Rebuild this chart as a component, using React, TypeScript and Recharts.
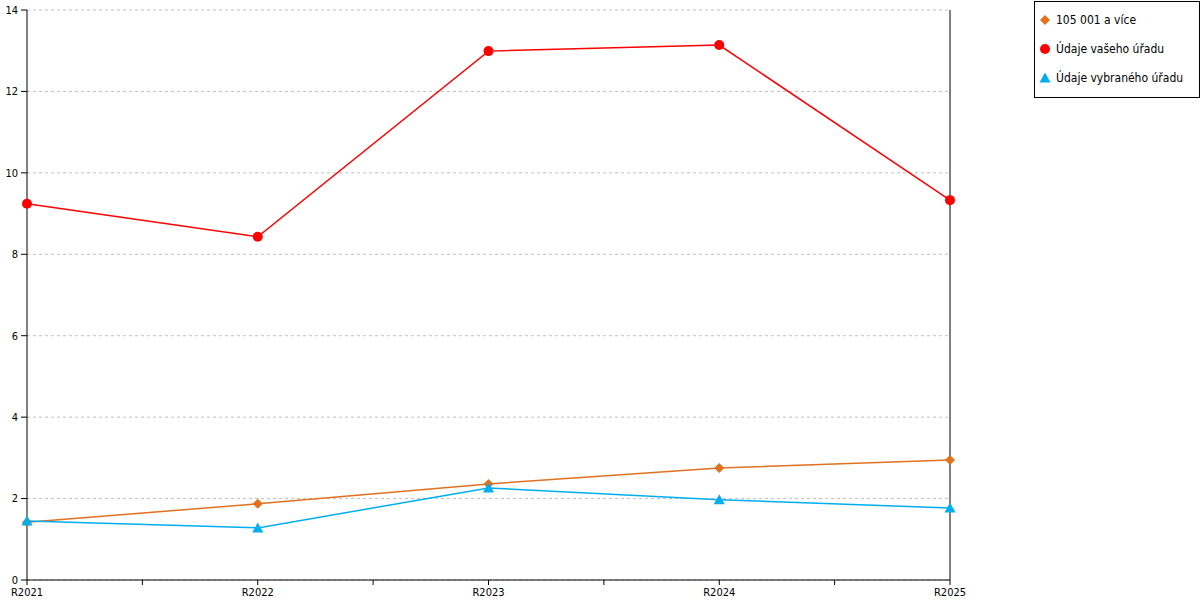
import React from "react";
import { LineChart, Line, XAxis, YAxis, CartesianGrid, ReferenceLine } from "recharts";

const categories = ["R2021", "R2022", "R2023", "R2024", "R2025"];
const range = [1.42, 1.87, 2.36, 2.75, 2.95];
const yourOffice = [9.24, 8.43, 12.99, 13.14, 9.33];
const chosenOffice = [1.45, 1.28, 2.26, 1.97, 1.77];
const yTicks = [0, 2, 4, 6, 8, 10, 12, 14];
const xTicks = [0, 0.5, 1, 1.5, 2, 2.5, 3, 3.5, 4];

const series = [
  { key: "range", name: "105 001 a více", color: "#e0711f", shape: "diamond" },
  { key: "yours", name: "Údaje vašeho úřadu", color: "#ff0000", shape: "circle" },
  { key: "chosen", name: "Údaje vybraného úřadu", color: "#00aeef", shape: "triangle" },
];

const data = categories.map((c, i) => ({
  idx: i,
  label: c,
  range: range[i],
  yours: yourOffice[i],
  chosen: chosenOffice[i],
}));

const font = "'DejaVu Sans Condensed', 'DejaVu Sans', sans-serif";

function Marker({ cx, cy, shape, color }: { cx: number; cy: number; shape: string; color: string }) {
  if (shape === "diamond") {
    return <path d={`M${cx},${cy - 5}L${cx + 5},${cy}L${cx},${cy + 5}L${cx - 5},${cy}Z`} fill={color} />;
  }
  if (shape === "triangle") {
    return <path d={`M${cx},${cy - 5.5}L${cx + 5.5},${cy + 4.5}L${cx - 5.5},${cy + 4.5}Z`} fill={color} />;
  }
  return <circle cx={cx} cy={cy} r={5} fill={color} />;
}

function LegendBox() {
  return (
    <div
      style={{
        position: "absolute",
        left: 1034,
        top: 1,
        width: 164,
        height: 95,
        border: "1px solid #000",
        background: "#fff",
        fontFamily: font,
        fontSize: 12,
        color: "#000",
        whiteSpace: "nowrap",
      }}
    >
      {series.map((s, i) => (
        <div
          key={s.key}
          style={{ position: "absolute", left: 0, top: 8 + i * 29, height: 20, display: "flex", alignItems: "center" }}
        >
          <svg width={20} height={14} style={{ marginLeft: 1 }}>
            <Marker cx={9} cy={7} shape={s.shape} color={s.color} />
          </svg>
          <span>{s.name}</span>
        </div>
      ))}
    </div>
  );
}

export default function App() {
  return (
    <div style={{ position: "absolute", left: 0, top: 0, width: 1200, height: 600 }}>
      <LineChart width={1200} height={600} data={data} margin={{ top: 10, right: 250, bottom: 0, left: 0 }}>
        <CartesianGrid vertical={false} stroke="#c0c0c0" strokeDasharray="3 3" />
        <XAxis
          dataKey="idx"
          type="number"
          domain={[0, 4]}
          ticks={xTicks}
          interval={0}
          height={20}
          tickSize={5}
          tickFormatter={(v: number) => (Number.isInteger(v) ? categories[v] : "")}
          stroke="#000"
          tick={{ fill: "#000", fontSize: 11, fontFamily: font }}
          tickMargin={3}
        />
        <YAxis
          domain={[0, 14]}
          ticks={yTicks}
          width={27}
          tickSize={6}
          stroke="#000"
          tick={{ fill: "#000", fontSize: 11, fontFamily: font }}
          tickMargin={3}
        />
        <ReferenceLine x={4} stroke="#000" strokeWidth={1} />
        {series.map((s) => (
          <Line
            key={s.key}
            dataKey={s.key}
            name={s.name}
            stroke={s.color}
            strokeWidth={1.5}
            isAnimationActive={false}
            dot={(p: any) => <Marker key={`${s.key}-${p.index}`} cx={p.cx} cy={p.cy} shape={s.shape} color={s.color} />}
            activeDot={false}
          />
        ))}
      </LineChart>
      <LegendBox />
    </div>
  );
}
